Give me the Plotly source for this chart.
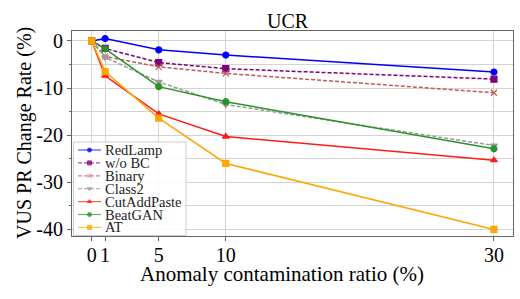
import plotly.graph_objects as go

ratios = [0, 1, 5, 10, 30]
series_names = ["RedLamp", "w/o BC", "Binary", "Class2", "CutAddPaste", "BeatGAN", "AT"]
redlamp = [0, 0.5, -1.9, -3.0, -6.6]
wo_bc = [0, -1.6, -4.6, -5.9, -8.1]
binary = [0, -3.3, -5.5, -6.9, -11.0]
class2 = [0, -3.5, -8.7, -13.5, -22.2]
cutaddpaste = [0, -7.4, -15.5, -20.3, -25.3]
beatgan = [0, -1.7, -9.7, -12.9, -22.9]
at_vals = [0, -6.5, -16.4, -26.0, -40.0]
x_ticks = [0, 1, 5, 10, 30]
y_ticks = [0, -10, -20, -30, -40]

values = [redlamp, wo_bc, binary, class2, cutaddpaste, beatgan, at_vals]
colors = ["#0000ff", "#800080", "#c05858", "#999999", "#ff1a1a", "#2a922a", "#ffa500"]
symbols = ["circle", "square", "x-thin-open", "triangle-down", "triangle-up", "circle", "square"]
msizes = [6, 6, 6, 6, 6, 6, 6]
dashes = ["solid", "4px,2px", "4px,2px", "4px,2px", "solid", "solid", "solid"]

FONT = "Liberation Serif"
W, H = 520, 299
L, R, T, B = 72, 7, 31, 63
PW, PH = W - L - R, H - T - B

def px2x(px):
    return (px - L) / PW

def px2y(py):
    return (H - B - py) / PH

fig = go.Figure()
for name, vals, c, s, ms, d in zip(series_names, values, colors, symbols, msizes, dashes):
    fig.add_trace(go.Scatter(
        x=ratios, y=vals, name=name, mode="lines+markers",
        line=dict(color=c, width=1.5, dash=d),
        marker=dict(color=c, symbol=s, size=ms, line=dict(color=c, width=1.2)),
        showlegend=False,
    ))

# manual legend on overlay axes
lx0, lx1, ly0, ly1 = px2x(73.5), px2x(186), px2y(235.5), px2y(142)
fig.add_trace(go.Scatter(
    x=[lx0, lx1, lx1, lx0, lx0], y=[ly0, ly0, ly1, ly1, ly0],
    mode="lines", fill="toself", fillcolor="rgba(255,255,255,0.85)",
    line=dict(color="#cccccc", width=1), xaxis="x2", yaxis="y2",
    showlegend=False, hoverinfo="skip",
))
for i, (name, c, s, d) in enumerate(zip(series_names, colors, symbols, dashes)):
    py = 150 + 12.9 * i
    yy = px2y(py)
    fig.add_trace(go.Scatter(
        x=[px2x(78), px2x(89.5), px2x(101)], y=[yy, yy, yy],
        mode="lines", line=dict(color=c, width=1.2, dash=d), opacity=0.7,
        xaxis="x2", yaxis="y2", showlegend=False, hoverinfo="skip",
    ))
    fig.add_trace(go.Scatter(
        x=[px2x(89.5)], y=[yy], mode="markers",
        marker=dict(color=c, symbol=s, size=4, line=dict(color=c, width=1)), opacity=0.8,
        xaxis="x2", yaxis="y2", showlegend=False, hoverinfo="skip",
    ))
    fig.add_annotation(x=px2x(103), y=yy, xref="paper", yref="paper",
                       text=name, showarrow=False, xanchor="left", yanchor="middle",
                       font=dict(family=FONT, size=14.5, color="#222"))

fig.add_annotation(x=px2x(288), y=px2y(21.5), xref="paper", yref="paper", text="UCR",
                   showarrow=False, xanchor="center", yanchor="middle",
                   font=dict(family=FONT, size=20, color="black"))
fig.add_annotation(x=px2x(282), y=px2y(274), xref="paper", yref="paper",
                   text="Anomaly contamination ratio (%)", showarrow=False,
                   xanchor="center", yanchor="middle",
                   font=dict(family=FONT, size=21, color="black"))
fig.add_annotation(x=px2x(24), y=px2y(133), xref="paper", yref="paper",
                   text="VUS PR Change Rate (%)", showarrow=False, textangle=-90,
                   xanchor="center", yanchor="middle",
                   font=dict(family=FONT, size=20, color="black"))

grid = "#d3d3d3"
fig.update_layout(
    width=W, height=H, margin=dict(l=L, r=R, t=T, b=B),
    paper_bgcolor="white", plot_bgcolor="white",
    font=dict(family=FONT, size=20, color="black"),
    xaxis=dict(range=[-1.47, 31.42], tickvals=x_ticks, ticktext=[str(v) for v in x_ticks],
               showgrid=True, gridcolor=grid, gridwidth=1, zeroline=False, automargin=False,
               showline=True, mirror=True, linecolor="#666", linewidth=1.2,
               ticks="outside", ticklen=4, tickcolor="#666", tickfont=dict(size=20),
               ticklabelstandoff=-3),
    yaxis=dict(range=[-41.4, 2.1], tickvals=y_ticks, ticktext=[str(v) for v in y_ticks],
               showgrid=True, gridcolor=grid, gridwidth=1, zeroline=False, automargin=False,
               showline=True, mirror=True, linecolor="#666", linewidth=1.2,
               ticks="outside", ticklen=4, tickcolor="#666", tickfont=dict(size=20),
               minor=dict(tickvals=[-5, -15, -25, -35], ticks="outside", ticklen=2,
                          tickcolor="#666", showgrid=True, gridcolor=grid, gridwidth=1)),
    xaxis2=dict(range=[0, 1], overlaying="x", visible=False, fixedrange=True),
    yaxis2=dict(range=[0, 1], overlaying="y", visible=False, fixedrange=True),
)

fig.write_html("out.html", config={"displayModeBar": False},
               post_script="document.body.style.margin='0';")
